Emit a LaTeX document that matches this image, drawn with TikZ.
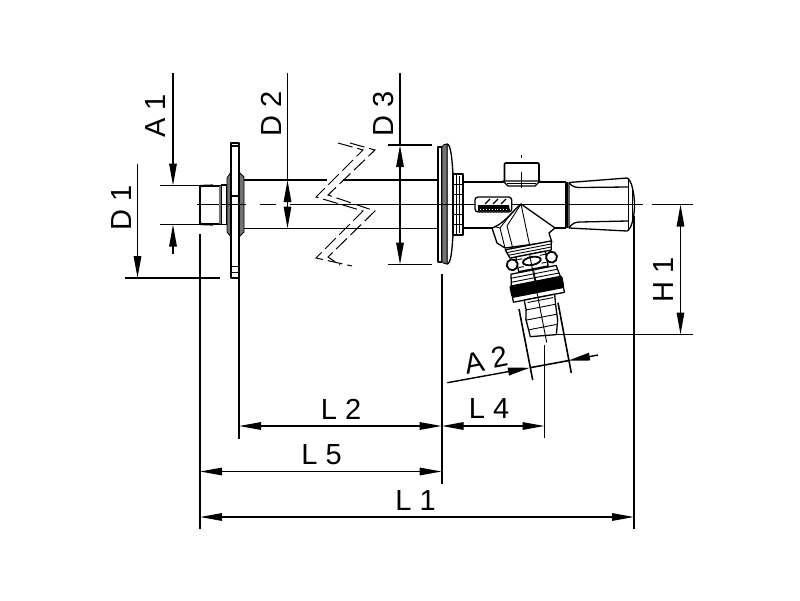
\documentclass[tikz,border=0pt]{standalone}
\usepackage{fontspec}
\setmainfont{Liberation Sans}
\usetikzlibrary{arrows.meta}
\tikzset{
  dimtip/.tip={Triangle[length=22pt,width=7.5pt]},
  dimline/.style={line width=1.6pt},
  dim/.style={line width=1.4pt,{dimtip}-{dimtip}},
  inarrow/.style={line width=1.4pt,-{dimtip}},
  part/.style={line width=1.3pt,line join=round},
  thin part/.style={line width=.9pt},
  heavy/.style={line width=2.2pt},
  breakline/.style={line width=1pt,dash pattern=on 15pt off 5pt,line join=miter},
  lab/.style={font=\fontsize{29}{29}\selectfont,inner sep=0pt},
  gfill/.style={fill=black!55,draw=black,line width=.8pt},
}
\begin{document}
\begin{tikzpicture}[x=1pt,y=-1pt]
\useasboundingbox (0,0) rectangle (800,600);
\fill[white] (0,0) rectangle (800,600);
% named reference points
\coordinate (a1top) at (173,73);
\coordinate (a1u) at (173,185.5);
\coordinate (a1l) at (173,224.5);
\coordinate (a1bot) at (173,254);
\coordinate (d1top) at (137.5,164);
\coordinate (d1bot) at (137.5,278);
\coordinate (d2top) at (287.5,73);
\coordinate (d2u) at (287.5,180);
\coordinate (d2l) at (287.5,228.5);
\coordinate (d3top) at (400,73);
\coordinate (d3u) at (400,145);
\coordinate (d3l) at (400,264.5);
\coordinate (l1a) at (200,517);
\coordinate (l1b) at (634,517);
\coordinate (l5a) at (200,471.5);
\coordinate (l5b) at (441.7,471.5);
\coordinate (l2a) at (239,426);
\coordinate (l2b) at (441.7,426);
\coordinate (l4b) at (544.5,426);
\coordinate (h1a) at (680.5,204.5);
\coordinate (h1b) at (680.5,334.5);
% extension lines
\draw[dimline] (160,185.5) -- (220,185.5) (160,224.5) -- (220,224.5);
\draw[dimline] (125,278) -- (220,278);
\draw[dimline] (388,145) -- (432,145) (388,264.5) -- (432,264.5);
\draw[dimline] (200,234) -- (200,529);
\draw[dimline] (239,278) -- (239,439);
\draw[dimline] (441.7,274) -- (441.7,484);
\draw[dimline] (544.5,345) -- (544.5,438);
\draw[dimline] (634,216) -- (634,529);
\draw[dimline] (652,204.5) -- (693,204.5);
\draw[dimline] (555,334.5) -- (693,334.5);
% dimension lines
\draw[inarrow] (a1top) -- (a1u);
\draw[inarrow] (a1bot) -- (a1l);
\draw[inarrow] (d1top) -- (d1bot);
\draw[dimline] (d2top) -- (d2u);
\draw[inarrow] (287.5,204) -- (d2l);
\draw[inarrow] (287.5,204) -- (d2u);
\draw[dimline] (d3top) -- (d3u);
\draw[dim] (d3u) -- (d3l);
\draw[dim] (l2a) -- (l2b);
\draw[dim] (l2b) -- (l4b);
\draw[dim] (l5a) -- (l5b);
\draw[dim] (l1a) -- (l1b);
\draw[dim] (h1a) -- (h1b);
% A2
\coordinate (a2s) at (447.3,382.7);
\coordinate (a2m) at (530,367.7);
\coordinate (a2n) at (568,360.7);
\coordinate (a2e) at (598,355);
\draw[inarrow] (a2s) -- (a2m);
\draw[inarrow] (a2e) -- (a2n);
\draw[dimline] (a2m) -- (a2n);
\draw[dimline] (519,309) -- (532.7,380);
\draw[dimline] (558,302.7) -- (571.3,373);
% labels
\node[lab,rotate=90] (tA1) at (156,116) {A 1};
\node[lab,rotate=90] (tD2) at (271,114) {D 2};
\node[lab,rotate=90] (tD3) at (384,114) {D 3};
\node[lab,rotate=90] (tD1) at (122,208) {D 1};
\node[lab,rotate=90] (tH1) at (664,279.5) {H 1};
\node[lab] (tL2) at (341,409) {L 2};
\node[lab] (tL4) at (489,409) {L 4};
\node[lab] (tL5) at (321.5,455) {L 5};
\node[lab] (tL1) at (415.5,500.5) {L 1};
\node[lab,rotate=11] (tA2) at (486,360) {A 2};
% pipe
\draw[part] (244,180) -- (327,180) (343,180) -- (438,180);
\draw[part] (244,228.5) -- (438,228.5);
\draw[part] (463,182) -- (566,182) (463,228) -- (566,228);
% centre line
\draw[thin part] (197,204.5) -- (246,204.5) (260,204.5) -- (276,204.5) (290,204.5) -- (643,204.5);
% break lines
\draw[breakline] (338,143) -- (363,150) -- (316,197) -- (363,211) -- (316,258) -- (352,266);
\draw[breakline] (350,143) -- (375,150) -- (328,195) -- (375,211) -- (328,257) -- (340,265);
% left spigot
\draw[part] (200,186) rectangle (221.5,224);
\draw[heavy] (200,186) -- (213,185.5) (200,224) -- (213,224.5);
\fill[black!55] (218.5,186) rectangle (221.5,224);
\draw[part] (221.5,185) rectangle (227,224.5);
% first flange
\draw[gfill] (231,172) -- (227,178) -- (227,232) -- (231,237) -- cycle;
\draw[gfill] (239,172) -- (244,177) -- (244,232) -- (239,237) -- cycle;
\draw[part,fill=white] (231,143) rectangle (239,278);
\draw[part] (231,146) -- (239,146) (231,196) -- (239,196) (231,266.5) -- (239,266.5) (231,272.5) -- (239,272.5);
\draw[thin part] (226,204.5) -- (246,204.5);
% second flange
\draw[part,fill=white] (438,147) rectangle (442,262);
\draw[part,fill=white] (447,144) .. controls (451,144) and (452,160) .. (453,174) -- (453,235) .. controls (452,250) and (451,264) .. (447,264) -- cycle;
\draw[gfill] (442,147) .. controls (442,145) and (445,144) .. (447,144) -- (447,264) .. controls (445,264) and (442,263) .. (442,261) -- cycle;
\draw[part,fill=white] (453,174) rectangle (463,235);
\draw[thin part] (456,174) -- (456,235) (459,176) -- (459,233);
\foreach \yy in {184,194,204,214,224} \draw[thin part] (453,\yy) -- (463,\yy);
\draw[thin part] (438,204.5) -- (470,204.5);
% top fitting
\draw[part,fill=white,rounded corners=1pt,line width=1.6pt] (504.5,181) -- (504.5,163) -- (539,163) -- (539,181);
\draw[part,fill=white] (503,181) -- (508,186) -- (535,186) -- (540,181) -- cycle;
\draw[thin part] (507,183.5) -- (536,183.5);
\draw[thin part] (521.5,172) -- (521.5,188) (521.5,155) -- (521.5,158);
% logo
\draw[part,rounded corners=3pt,fill=white] (475,197) rectangle (511.7,212);
\fill[black] (478,205) -- (509,205) -- (510,211.5) -- (478,211.5) -- cycle;
\draw[white,line width=.9pt,dotted] (480,209) -- (508,209);
\draw[line width=1.3pt] (485,204) -- (490,199) (493,204) -- (498,199) (501,204) -- (506,199);
% handle
\draw[line width=2.6pt] (566.5,182) -- (566.5,228);
\draw[part,fill=white] (569,182.5) -- (627,178) .. controls (632,180) and (634.5,195) .. (634.5,205) .. controls (634.5,215) and (632,229) .. (627,231) -- (569,228) -- cycle;
\draw[part] (569,182.5) .. controls (572,187) and (576,187.5) .. (580,187.5) -- (628,187);
\draw[part] (569,228) .. controls (572,223) and (576,222) .. (580,222) -- (628,221);
\draw[thin part] (628,178) -- (628,231) (632,188) -- (632,221);
\draw[thin part] (569,204.5) -- (643,204.5);
% valve body
\draw[part,fill=white] (521,204) .. controls (510,214) and (505,222) .. (495,226.7) -- (492,228) -- (497,243) -- (505,248) -- (551.7,241.7) -- (549,233) -- (555,228) -- cycle;
\draw[thin part] (495,226.7) -- (500,228) -- (505,248);
\draw[thin part] (521,204) .. controls (508,216) and (505,222) .. (500,228);
\draw[thin part] (521,204) -- (507,226) -- (513,249);
\draw[thin part] (521,204) -- (530,247);
% outlet, tilted
\begin{scope}[shift={(521,205)},rotate=11]
  \draw[part,fill=white] (-24,41) -- (23,41) -- (21,50) -- (-21,50) -- cycle;
  \draw[thin part] (-23,44) -- (22,44) (-22,47) -- (21,47);
  \draw[part,fill=white] (-15,50) rectangle (15,65);
  \draw[line width=1.8pt,fill=white] (-20,57) circle[radius=5.5];
  \draw[line width=1.8pt,fill=white] (20,57) circle[radius=5.5];
  \draw[line width=1.8pt,fill=white] (0,57) ellipse[x radius=9,y radius=4];
  \draw[thin part] (-14,53) -- (-9,53) (9,53) -- (14,53) (-14,61) -- (-9,61) (9,61) -- (14,61);
  \draw[part,fill=white] (-23,66) -- (23,66) -- (25,78) -- (-25,78) -- cycle;
  \draw[thin part] (-24,70) -- (24,70) (-24,74) -- (24,74) (0,66) -- (0,78);
  \fill[black,rounded corners=2pt] (-27,77) rectangle (27,89);
  \draw[part,fill=white] (-26,89) rectangle (26,94);
  \draw[part,fill=white] (-15,94) -- (-15,104) -- (-17,113) -- (-16,131) -- (10,134) -- (14,120) -- (15,104) -- (16,94) -- cycle;
  \draw[thin part] (-15,104) -- (15,104) (-17,114) -- (14,114) (-17,124) -- (12,124) (-12,97) -- (14,97);
  \draw[thin part] (-1,50) -- (-1,140);
\end{scope}
\end{tikzpicture}
\end{document}
